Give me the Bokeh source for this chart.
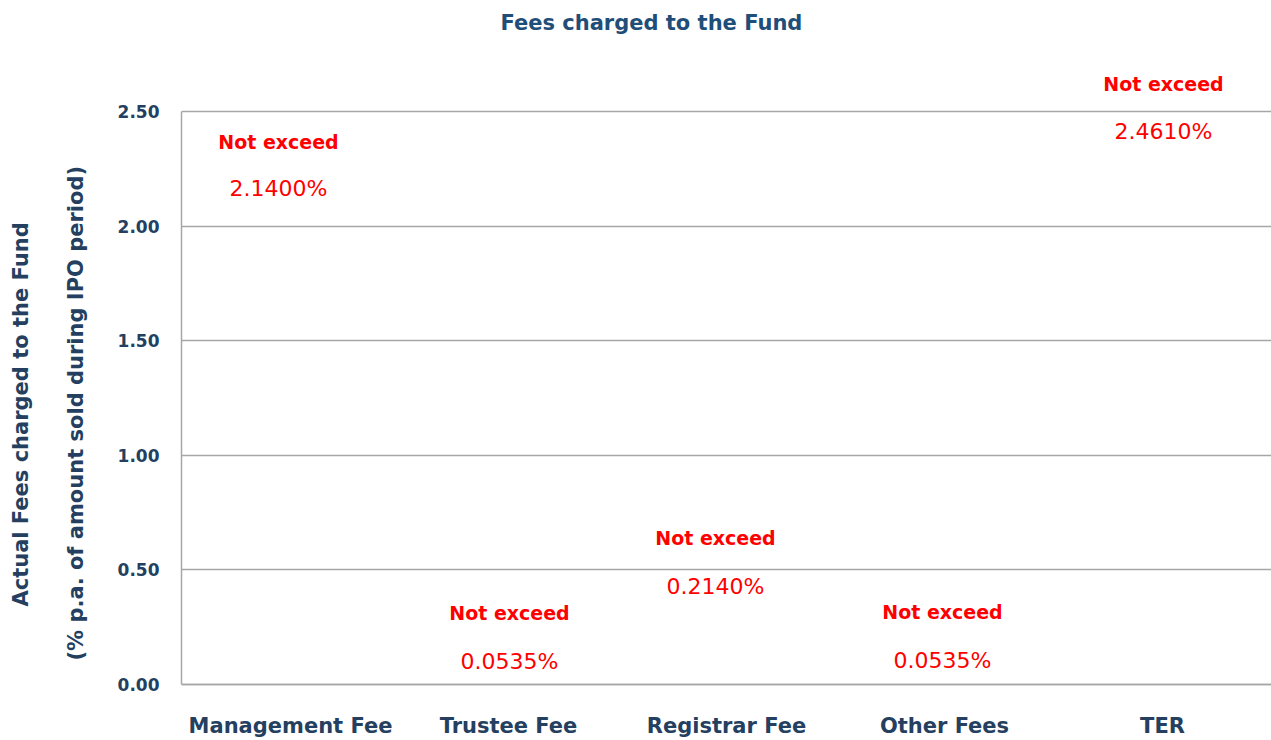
from bokeh.plotting import figure
from bokeh.models import (ColumnDataSource, FactorRange, Range1d, FixedTicker,
                          NumeralTickFormatter, LabelSet, Title)
from bokeh.core.properties import value
from bokeh.embed import file_html
from bokeh.resources import INLINE

# ---- data ----
categories = ["Management Fee", "Trustee Fee", "Registrar Fee", "Other Fees", "TER"]
fee_values = [2.14, 0.0535, 0.214, 0.0535, 2.461]
note_text = ["Not exceed"] * 5
y_ticks = [0.0, 0.5, 1.0, 1.5, 2.0, 2.5]
y_label_line1 = "Actual Fees charged to the Fund"
y_label_line2 = "(% p.a. of amount sold during IPO period)"
chart_title = "Fees charged to the Fund"

# label placement (pixel offsets from the value point), layout only
value_offsets = [6, 11, 49, 12, -11]
note_offsets = [52, 59, 97, 60, 36]
label_x_shift = [-12, 1, -11, -2, 1]

TITLE_COLOR = "#1F4E79"
AXIS_COLOR = "#243F60"
GRID_COLOR = "#A6A6A6"
FONT = "DejaVu Sans"

src = ColumnDataSource(dict(
    cat=categories,
    val=fee_values,
    vtxt=[f"{v:.4f}%" for v in fee_values],
    ntxt=note_text,
    voff=value_offsets,
    noff=note_offsets,
    xoff=label_x_shift,
))

p = figure(
    width=1271, height=740,
    x_range=FactorRange(*categories, range_padding=0),
    y_range=Range1d(-0.2443, 2.7225),
    output_backend="svg", toolbar_location=None,
    min_border_left=181, min_border_right=0, min_border_top=0, min_border_bottom=0,
)
p.outline_line_color = None
p.background_fill_color = "white"
p.border_fill_color = "white"
p.title = None

# spacer between title and plot frame (nearest the frame)
spacer = Title(text=" ", text_font_size="1px", standoff=11)
p.add_layout(spacer, "above")
main_title = Title(text=chart_title, align="left", offset=319, vertical_align="top",
                   standoff=20, text_font=FONT, text_font_style="bold",
                   text_font_size="21px", text_color=TITLE_COLOR)
p.add_layout(main_title, "above")

# invisible bars (chart shows no visible bars, only labels)
p.vbar(x="cat", top="val", width=0.6, source=src, fill_alpha=0, line_alpha=0)

# y axis
p.yaxis.bounds = (0, 2.5)
p.yaxis.ticker = FixedTicker(ticks=y_ticks)
p.yaxis.formatter = NumeralTickFormatter(format="0.00")
p.yaxis.major_tick_line_color = None
p.yaxis.minor_tick_line_color = None
p.yaxis.major_tick_out = 0
p.yaxis.major_label_standoff = 22
p.yaxis.major_label_text_font = FONT
p.yaxis.major_label_text_font_style = "bold"
p.yaxis.major_label_text_font_size = "17px"
p.yaxis.major_label_text_color = AXIS_COLOR
p.yaxis.axis_line_color = GRID_COLOR
p.yaxis.axis_line_width = 1.5

for txt, so, off in ((y_label_line2, 53, 80), (y_label_line1, 5, 134)):
    t = Title(text=txt, align="left", offset=off, standoff=so,
              text_font=FONT, text_font_style="bold", text_font_size="21px",
              text_color=AXIS_COLOR)
    p.add_layout(t, "left")

# x axis at y = 0 inside the frame
p.xaxis.fixed_location = 0
p.xaxis.major_tick_line_color = None
p.xaxis.minor_tick_line_color = None
p.xaxis.major_tick_out = 0
p.xaxis.major_label_standoff = 29
p.xaxis.major_label_text_font = FONT
p.xaxis.major_label_text_font_style = "bold"
p.xaxis.major_label_text_font_size = "21px"
p.xaxis.major_label_text_color = AXIS_COLOR
p.xaxis.axis_line_color = GRID_COLOR
p.xaxis.axis_line_width = 1.5

p.xgrid.grid_line_color = None
p.ygrid.grid_line_color = GRID_COLOR
p.ygrid.grid_line_width = 1.5

vals = LabelSet(x="cat", y="val", text="vtxt", x_offset="xoff", y_offset="voff", source=src,
                text_align="center", text_baseline="middle",
                text_font=value(FONT), text_font_size=value("22px"),
                text_color="#FF0000")
notes = LabelSet(x="cat", y="val", text="ntxt", x_offset="xoff", y_offset="noff", source=src,
                 text_align="center", text_baseline="middle",
                 text_font=value(FONT), text_font_style="bold",
                 text_font_size=value("19px"), text_color="#FF0000")
p.add_layout(vals)
p.add_layout(notes)

open("out.html", "w").write(file_html(p, INLINE))
